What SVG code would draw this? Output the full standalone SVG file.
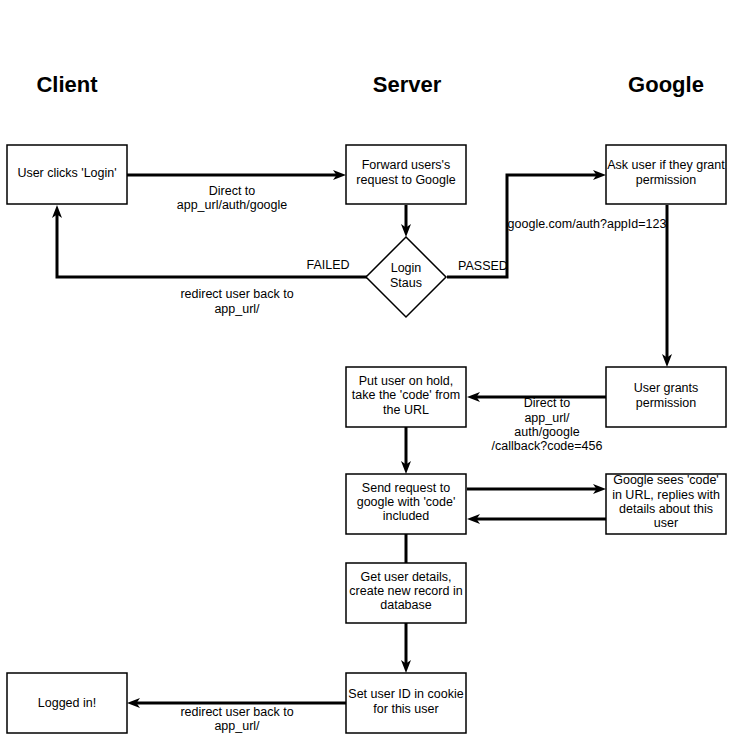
<svg xmlns="http://www.w3.org/2000/svg" width="732" height="741" viewBox="0 0 732 741">
<style>
.box{fill:#fff;stroke:#000;stroke-width:1.5}
.t{font-family:"Liberation Sans",Arial,sans-serif;font-size:12.5px;fill:#000;text-anchor:middle}
.h{font-family:"Liberation Sans",Arial,sans-serif;font-size:22px;font-weight:bold;fill:#000;text-anchor:middle}
.c{fill:none;stroke:#000;stroke-width:3}
.a{marker-end:url(#arr)}
</style>
<defs>
<marker id="arr" markerUnits="userSpaceOnUse" markerWidth="14" markerHeight="12" refX="5" refY="6" orient="auto" overflow="visible">
<path d="M0,1 L13,6 L0,11 L3.5,6 z" fill="#000"/>
</marker>
</defs>
<rect width="732" height="741" fill="#fff"/>
<g id="headers">
<text class="h" x="67" y="92">Client</text>
<text class="h" x="407" y="92">Server</text>
<text class="h" x="666" y="92">Google</text>
</g>
<g id="connectors">
<path class="c a" d="M127,175 H338"/>
<path class="c a" d="M406,205 V229"/>
<path class="c a" d="M367,277 H57 V213"/>
<path class="c a" d="M447,277 H507 V175 H598"/>
<path class="c a" d="M667,205 V359"/>
<path class="c a" d="M606,397 H475"/>
<path class="c a" d="M406,427 V466"/>
<path class="c a" d="M467,489 H598"/>
<path class="c a" d="M606,519 H475"/>
<path class="c" d="M406,534 V563"/>
<path class="c a" d="M406,623 V665"/>
<path class="c a" d="M346,703 H135"/>
</g>
<g id="edge-labels">
<text class="t" x="232" y="195">Direct to</text>
<text class="t" x="232" y="209">app_url/auth/google</text>
<text class="t" x="328" y="269">FAILED</text>
<text class="t" x="237" y="298">redirect user back to</text>
<text class="t" x="237" y="313">app_url/</text>
<text class="t" x="483" y="270">PASSED</text>
<text class="t" x="587" y="228">google.com/auth?appId=123</text>
<text class="t" x="547" y="407">Direct to</text>
<text class="t" x="547" y="422">app_url/</text>
<text class="t" x="547" y="436">auth/google</text>
<text class="t" x="547" y="450">/callback?code=456</text>
<text class="t" x="237" y="716">redirect user back to</text>
<text class="t" x="237" y="730">app_url/</text>
</g>
<g id="n-login">
<rect class="box" x="7" y="145" width="120" height="59"/>
<text class="t" x="67" y="177">User clicks 'Login'</text>
</g>
<g id="n-forward">
<rect class="box" x="346" y="145" width="120" height="59"/>
<text class="t" x="406" y="169">Forward users's</text>
<text class="t" x="406" y="184">request to Google</text>
</g>
<g id="n-ask">
<rect class="box" x="606" y="145" width="120" height="59"/>
<text class="t" x="666" y="169">Ask user if they grant</text>
<text class="t" x="666" y="184">permission</text>
</g>
<g id="n-status">
<path class="box" d="M406,237 L446,277 L406,317 L366,277 Z"/>
<text class="t" x="406" y="272">Login</text>
<text class="t" x="406" y="287">Staus</text>
</g>
<g id="n-grants">
<rect class="box" x="606" y="367" width="120" height="60"/>
<text class="t" x="666" y="392">User grants</text>
<text class="t" x="666" y="407">permission</text>
</g>
<g id="n-hold">
<rect class="box" x="346" y="367" width="120" height="60"/>
<text class="t" x="406" y="385">Put user on hold,</text>
<text class="t" x="406" y="399">take the 'code' from</text>
<text class="t" x="406" y="414">the URL</text>
</g>
<g id="n-send">
<rect class="box" x="346" y="474" width="120" height="60"/>
<text class="t" x="406" y="492">Send request to</text>
<text class="t" x="406" y="506">google with 'code'</text>
<text class="t" x="406" y="520">included</text>
</g>
<g id="n-sees">
<rect class="box" x="606" y="474" width="120" height="60"/>
<text class="t" x="666" y="484">Google sees 'code'</text>
<text class="t" x="666" y="499">in URL, replies with</text>
<text class="t" x="666" y="513">details about this</text>
<text class="t" x="666" y="527">user</text>
</g>
<g id="n-details">
<rect class="box" x="346" y="563" width="120" height="60"/>
<text class="t" x="406" y="581">Get user details,</text>
<text class="t" x="406" y="595">create new record in</text>
<text class="t" x="406" y="609">database</text>
</g>
<g id="n-cookie">
<rect class="box" x="346" y="673" width="120" height="60"/>
<text class="t" x="406" y="698">Set user ID in cookie</text>
<text class="t" x="406" y="713">for this user</text>
</g>
<g id="n-loggedin">
<rect class="box" x="7" y="673" width="120" height="60"/>
<text class="t" x="67" y="707">Logged in!</text>
</g>
</svg>
